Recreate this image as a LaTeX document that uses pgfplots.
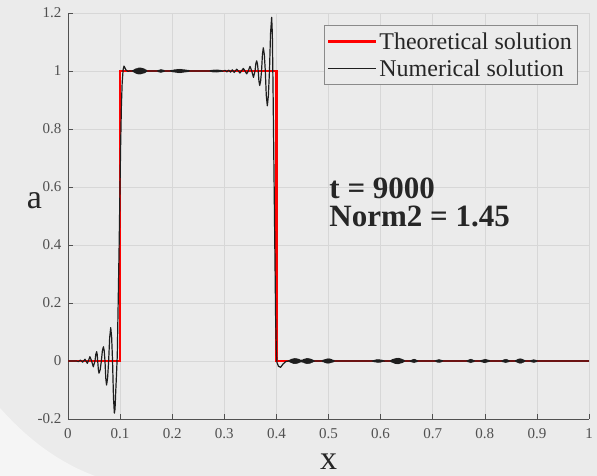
\documentclass[border=0pt]{standalone}
\usepackage{fontspec}
\setmainfont{Liberation Serif}
\usepackage{pgfplots}
\pgfplotsset{compat=1.18}
\definecolor{bg}{HTML}{EBEBEB}
\definecolor{bglight}{HTML}{F5F5F5}
\definecolor{gridc}{HTML}{D7D7D7}
\definecolor{axc}{HTML}{505050}
\definecolor{txt}{HTML}{262626}
\definecolor{legc}{HTML}{8A8A8A}
\definecolor{numc}{HTML}{1E1E1E}
\begin{document}
\begin{tikzpicture}
\fill[bg] (0pt,0pt) rectangle (597pt,476pt);
\fill[bglight] (0pt,0pt) -- (0pt,68pt) .. controls (25pt,40pt) and (55pt,15pt) .. (95pt,0pt) -- cycle;
\begin{axis}[
  at={(68pt,57pt)}, anchor=south west, scale only axis,
  width=521pt, height=406pt,
  xmin=0, xmax=1, ymin=-0.2, ymax=1.2,
  axis x line*=bottom, axis y line*=left,
  axis line style={draw=axc, line width=0.7pt, -},
  axis background/.style={fill=bg},
  xtick={0,0.1,0.2,0.3,0.4,0.5,0.6,0.7,0.8,0.9,1},
  xticklabels={0,0.1,0.2,0.3,0.4,0.5,0.6,0.7,0.8,0.9,1},
  ytick={-0.2,0,0.2,0.4,0.6,0.8,1,1.2},
  yticklabels={-0.2,0,0.2,0.4,0.6,0.8,1,1.2},
  tick align=inside, major tick length=5pt,
  tick style={draw=axc, line width=0.6pt},
  grid=major, major grid style={draw=gridc, line width=0.6pt},
  /pgf/number format/assume math mode=true,
  tick label style={font=\fontsize{15}{15}\selectfont, text=axc},
  xticklabel style={yshift=-6pt},
  yticklabel style={xshift=-3pt},
  legend style={at={(0.9775,0.970)}, anchor=north east, draw=legc, fill=bg,
    line width=0.6pt, font=\fontsize{24}{26}\selectfont, text=txt,
    inner xsep=3pt, inner ysep=5pt, row sep=5pt, nodes={inner sep=2pt}},
  legend cell align=left,
  legend image code/.code={\draw[#1] (0pt,0pt) -- (48pt,0pt);},
]
\addplot[red, line width=2.5pt, sharp plot] coordinates {
(0,0) (0.1,0) (0.1,1) (0.4,1) (0.4,0) (1,0)};
\addlegendentry{Theoretical solution}
\addplot[numc, line width=1.2pt, sharp plot, line join=round] coordinates {
(0,0) (0.016,0) (0.020,-0.002) (0.024,0.003) (0.028,-0.004) (0.0326,0.006) (0.037,-0.008)
(0.0395,0.002) (0.042,0.015) (0.0453,0.0) (0.0486,-0.02) (0.0518,0.0) (0.0534,0.023)
(0.055,0.032) (0.0560,0.023) (0.057,0.0) (0.0583,-0.030) (0.0595,-0.042) (0.0618,-0.030)
(0.064,0.0) (0.066,0.035) (0.068,0.049) (0.0695,0.035) (0.071,0) (0.0725,-0.059)
(0.074,-0.083) (0.076,-0.059) (0.078,0) (0.080,0.081) (0.082,0.115) (0.0838,0.081)
(0.0855,0) (0.0873,-0.127) (0.089,-0.18) (0.0903,-0.165) (0.0915,-0.11) (0.093,-0.05)
(0.0946,0.02) (0.098,0.38) (0.101,0.74) (0.1025,0.88) (0.104,0.96) (0.1058,1.005)
(0.1075,1.017) (0.109,1.012) (0.111,1.004) (0.115,0.999) (0.119,1.0) (0.123,1.0)
(0.124,1.001) (0.125,0.998) (0.126,1.003) (0.127,0.996) (0.128,1.005) (0.129,0.994)
(0.130,1.007) (0.131,0.992) (0.132,1.008) (0.133,0.991) (0.134,1.009) (0.135,0.990)
(0.136,1.010) (0.137,0.990) (0.138,1.010) (0.139,0.990) (0.140,1.010) (0.141,0.991)
(0.142,1.009) (0.143,0.992) (0.144,1.008) (0.145,0.993) (0.146,1.007) (0.147,0.994)
(0.148,1.005) (0.149,0.996) (0.150,1.003) (0.151,0.999) (0.152,1.0) (0.171,1.0)
(0.172,1.001) (0.173,0.998) (0.174,1.002) (0.175,0.997) (0.176,1.003) (0.177,0.996)
(0.178,1.004) (0.179,0.996) (0.180,1.004) (0.181,0.997) (0.182,1.003) (0.183,0.998)
(0.184,1.002) (0.185,0.999) (0.186,1.0) (0.196,1.0)
(0.197,1.001) (0.198,0.999) (0.199,1.002) (0.200,0.998) (0.201,1.002) (0.202,0.997)
(0.203,1.003) (0.204,0.997) (0.205,1.004) (0.206,0.996) (0.207,1.004) (0.208,0.996)
(0.209,1.005) (0.210,0.995) (0.211,1.005) (0.212,0.995) (0.213,1.005) (0.214,0.995)
(0.215,1.005) (0.216,0.995) (0.217,1.005) (0.218,0.995) (0.219,1.005) (0.220,0.996)
(0.221,1.004) (0.222,0.996) (0.223,1.004) (0.224,0.997) (0.225,1.003) (0.226,0.997)
(0.227,1.003) (0.228,0.998) (0.229,1.002) (0.230,0.998) (0.231,1.002) (0.232,0.999)
(0.233,1.001) (0.234,1.0) (0.272,1.0)
(0.273,1.001) (0.274,0.999) (0.275,1.002) (0.276,0.998) (0.277,1.002) (0.278,0.997)
(0.279,1.003) (0.280,0.997) (0.281,1.003) (0.282,0.997) (0.283,1.003) (0.284,0.997)
(0.285,1.003) (0.286,0.997) (0.287,1.003) (0.288,0.997) (0.289,1.003) (0.290,0.998)
(0.291,1.002) (0.292,0.998) (0.293,1.002) (0.294,0.999) (0.295,1.001) (0.296,0.999)
(0.298,1.0) (0.3015,1.002) (0.305,0.997) (0.3085,1.003) (0.312,0.996) (0.3155,1.004)
(0.319,0.995) (0.3238,1.006) (0.327,1.0) (0.330,0.993) (0.333,1.0) (0.3365,1.009)
(0.3398,1.0) (0.343,0.99) (0.346,1.0) (0.3493,1.016) (0.3527,1.0) (0.356,0.978)
(0.359,1.0) (0.3605,1.025) (0.3621,1.035) (0.3636,1.025) (0.3651,1.0) (0.3665,0.965)
(0.368,0.95) (0.3697,0.965) (0.3715,1.0) (0.3732,1.057) (0.3749,1.08) (0.3768,1.057)
(0.3787,1.0) (0.3806,0.915) (0.3826,0.88) (0.3846,0.915) (0.3867,1.0) (0.3888,1.131)
(0.3909,1.185) (0.3922,1.13) (0.3935,0.95) (0.396,0.55) (0.3985,0.15) (0.400,0.03)
(0.401,-0.005) (0.404,-0.018) (0.408,-0.022) (0.413,-0.01) (0.418,-0.002)
(0.423,0)
(0.424,0.001) (0.425,-0.002) (0.426,0.003) (0.427,-0.004) (0.428,0.005) (0.429,-0.005)
(0.430,0.006) (0.431,-0.007) (0.432,0.007) (0.433,-0.008) (0.434,0.008) (0.435,-0.008)
(0.436,0.008) (0.437,-0.008) (0.438,0.008) (0.439,-0.008) (0.440,0.007) (0.441,-0.007)
(0.442,0.006) (0.443,-0.005) (0.444,0.005) (0.445,-0.004) (0.446,0.003) (0.447,-0.003)
(0.448,0.003) (0.449,-0.003) (0.450,0.003) (0.451,-0.004) (0.452,0.005) (0.453,-0.005)
(0.454,0.006) (0.455,-0.007) (0.456,0.007) (0.457,-0.008) (0.458,0.008) (0.459,-0.008)
(0.460,0.008) (0.461,-0.008) (0.462,0.008) (0.463,-0.008) (0.464,0.007) (0.465,-0.007)
(0.466,0.006) (0.467,-0.005) (0.468,0.005) (0.469,-0.004) (0.470,0.003) (0.471,-0.002)
(0.472,0.001) (0.473,-0.001) (0.474,0) (0.487,0)
(0.488,0.001) (0.489,-0.002) (0.490,0.003) (0.491,-0.003) (0.492,0.004) (0.493,-0.005)
(0.494,0.005) (0.495,-0.006) (0.496,0.006) (0.497,-0.007) (0.498,0.007) (0.499,-0.007)
(0.500,0.007) (0.501,-0.007) (0.502,0.007) (0.503,-0.006) (0.504,0.006) (0.505,-0.005)
(0.506,0.005) (0.507,-0.004) (0.508,0.003) (0.509,-0.003) (0.510,0.002) (0.511,-0.001)
(0.512,0) (0.583,0)
(0.584,0.001) (0.585,-0.001) (0.586,0.001) (0.587,-0.002) (0.588,0.002) (0.589,-0.003)
(0.590,0.003) (0.591,-0.003) (0.592,0.004) (0.593,-0.004) (0.594,0.004) (0.595,-0.004)
(0.596,0.004) (0.597,-0.004) (0.598,0.004) (0.599,-0.004) (0.600,0.003) (0.601,-0.003)
(0.602,0.003) (0.603,-0.002) (0.604,0.002) (0.605,-0.001) (0.606,0.001) (0.607,-0.001)
(0.608,0) (0.618,0)
(0.619,0.001) (0.620,-0.002) (0.621,0.003) (0.622,-0.004) (0.623,0.005) (0.624,-0.005)
(0.625,0.006) (0.626,-0.007) (0.627,0.007) (0.628,-0.008) (0.629,0.008) (0.630,-0.009)
(0.631,0.009) (0.632,-0.009) (0.633,0.009) (0.634,-0.009) (0.635,0.009) (0.636,-0.008)
(0.637,0.008) (0.638,-0.007) (0.639,0.007) (0.640,-0.006) (0.641,0.005) (0.642,-0.005)
(0.643,0.004) (0.644,-0.003) (0.645,0.002) (0.646,-0.001) (0.647,0) (0.656,0)
(0.657,0.001) (0.658,-0.002) (0.659,0.002) (0.660,-0.003) (0.661,0.004) (0.662,-0.004)
(0.663,0.005) (0.664,-0.005) (0.665,0.005) (0.666,-0.004) (0.667,0.004) (0.668,-0.003)
(0.669,0.002) (0.670,-0.002) (0.671,0.001) (0.672,0) (0.704,0)
(0.705,0.001) (0.706,-0.001) (0.707,0.002) (0.708,-0.003) (0.709,0.003) (0.710,-0.004)
(0.711,0.004) (0.712,-0.004) (0.713,0.004) (0.714,-0.004) (0.715,0.003) (0.716,-0.003)
(0.717,0.002) (0.718,-0.001) (0.719,0.001) (0.720,0) (0.765,0)
(0.766,0.001) (0.767,-0.002) (0.768,0.002) (0.769,-0.003) (0.770,0.004) (0.771,-0.004)
(0.772,0.005) (0.773,-0.005) (0.774,0.005) (0.775,-0.004) (0.776,0.004) (0.777,-0.003)
(0.778,0.002) (0.779,-0.002) (0.780,0.001) (0.781,0) (0.791,0)
(0.792,0.001) (0.793,-0.002) (0.794,0.002) (0.795,-0.003) (0.796,0.003) (0.797,-0.004)
(0.798,0.004) (0.799,-0.005) (0.800,0.005) (0.801,-0.005) (0.802,0.005) (0.803,-0.004)
(0.804,0.004) (0.805,-0.003) (0.806,0.003) (0.807,-0.002) (0.808,0.002) (0.809,-0.001)
(0.810,0) (0.832,0)
(0.833,0.001) (0.834,-0.002) (0.835,0.002) (0.836,-0.003) (0.837,0.004) (0.838,-0.004)
(0.839,0.005) (0.840,-0.005) (0.841,0.005) (0.842,-0.004) (0.843,0.004) (0.844,-0.003)
(0.845,0.002) (0.846,-0.002) (0.847,0.001) (0.848,0) (0.858,0)
(0.859,0.001) (0.860,-0.002) (0.861,0.003) (0.862,-0.004) (0.863,0.005) (0.864,-0.005)
(0.865,0.006) (0.866,-0.007) (0.867,0.007) (0.868,-0.007) (0.869,0.007) (0.870,-0.007)
(0.871,0.006) (0.872,-0.005) (0.873,0.005) (0.874,-0.004) (0.875,0.003) (0.876,-0.002)
(0.877,0.001) (0.878,0) (0.887,0)
(0.888,0.001) (0.889,-0.002) (0.890,0.002) (0.891,-0.003) (0.892,0.003) (0.893,-0.004)
(0.894,0.004) (0.895,-0.004) (0.896,0.003) (0.897,-0.003) (0.898,0.002) (0.899,-0.002)
(0.900,0.001) (0.901,0) (1,0)};
\addlegendentry{Numerical solution}
\node[anchor=base west, font=\bfseries\fontsize{31}{31}\selectfont, text=txt, inner sep=0pt]
  at (axis cs:0.5015,0.561) {t = 9000};
\node[anchor=base west, font=\bfseries\fontsize{31}{31}\selectfont, text=txt, inner sep=0pt]
  at (axis cs:0.5015,0.464) {Norm2 = 1.45};
\end{axis}
\node[anchor=base, font=\fontsize{34}{34}\selectfont, text=txt, inner sep=0pt] at (34.5pt,267pt) {a};
\node[anchor=base, font=\fontsize{34}{34}\selectfont, text=txt, inner sep=0pt] at (328.5pt,6pt) {x};
\pgfresetboundingbox
\path (0pt,0pt) rectangle (597pt,476pt);
\end{tikzpicture}
\end{document}
